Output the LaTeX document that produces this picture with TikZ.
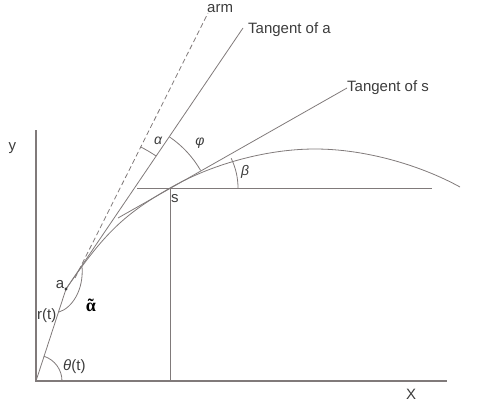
\documentclass[tikz,border=0pt]{standalone}
\usepackage{fontspec}
\setmainfont{Liberation Sans}
\newfontfamily\serifgk{Liberation Serif}
\definecolor{lnc}{RGB}{128,122,122}
\definecolor{txc}{RGB}{60,60,60}
\begin{document}
\begin{tikzpicture}[x=1pt,y=-1pt,
  ln/.style={draw=lnc, line width=0.8pt},
  axis/.style={draw=lnc, line width=1.1pt},
  armline/.style={draw=lnc, line width=0.8pt, dash pattern=on 5pt off 3pt},
  lbl/.style={text=txc, font=\fontsize{15}{15}\selectfont, inner sep=0pt},
  gk/.style={text=txc, font=\fontsize{14}{14}\selectfont\itshape, inner sep=0pt}]
\useasboundingbox (0,0) rectangle (489,407);
% key points
\coordinate (O) at (36,381);
\coordinate (Ytop) at (36,130);
\coordinate (Xend) at (447,381);
\coordinate (A) at (66,289);
\coordinate (S) at (170,188);
\coordinate (ArmS) at (75,278);
\coordinate (ArmE) at (208,13);
\coordinate (TaE) at (243,28);
\coordinate (TsS) at (118,218);
\coordinate (TsE) at (347,88);
\coordinate (Hs) at (137,188);
\coordinate (He) at (432,188);
\coordinate (Sx) at (170,381);
\coordinate (Pk) at (315,149);
\coordinate (Ce) at (460,187);
\coordinate (Cal) at (78,271);
\coordinate (Cph) at (112.2,221.3);
\coordinate (Rt) at (59,312);
\coordinate (Mc) at (82,266);
% axes
\draw[axis] (Ytop) -- (O) -- (Xend);
% radius r(t)
\draw[ln] (O) -- (A);
% arm
\draw[armline] (ArmS) -- (ArmE);
% tangents
\draw[ln] (A) -- (TaE);
\draw[ln] (TsS) -- (TsE);
% horizontal and vertical through s
\draw[ln] (Hs) -- (He);
\draw[ln] (S) -- (Sx);
% main curve
\draw[ln] (A) .. controls (105,232) and (125,214) .. (S)
  .. controls (210,165) and (265,149) .. (Pk)
  .. controls (365,149) and (420,165) .. (Ce);
% alpha tilde curve
\draw[ln] (Rt) .. controls (72,308) and (84,290) .. (Mc);
% point a
\fill[txc] (A) circle (1.6pt);
% angle arcs
\draw[ln] (O) ++(0:26pt) arc[start angle=0, end angle=72, radius=26pt];
\draw[ln] (Cal) ++(55.9:139pt) arc[start angle=55.9, end angle=63.3, radius=139pt];
\draw[ln] (Cph) ++(29.95:102pt) arc[start angle=29.95, end angle=55.9, radius=102pt];
\draw[ln] (S) ++(0:68pt) arc[start angle=0, end angle=26, radius=68pt];
% labels
\node[lbl, anchor=base west] (tarm) at (207,12) {arm};
\node[lbl, anchor=base west] (tta) at (248,33) {Tangent of a};
\node[lbl, anchor=base west] (tts) at (347,91) {Tangent of s};
\node[lbl, anchor=base] (ty) at (12.5,150) {y};
\node[lbl, anchor=base] (tx) at (411,399) {X};
\node[lbl, anchor=base west] (ts) at (171,202) {s};
\node[lbl, anchor=base] (ta) at (60,288) {a};
\node[lbl, anchor=base west] (tr) at (37,319) {r(t)};
\node[lbl, anchor=base west] (tth) at (63,370) {{\itshape θ}(t)};
\node[gk] (tal) at (158,141) {α};
\node[gk] (tph) at (200,143) {φ};
\node[gk] (tbe) at (245,172) {β};
\node[inner sep=0pt, anchor=base, font=\fontsize{18}{18}\selectfont\serifgk\bfseries] (tat) at (91,311) {\makebox[0pt][l]{\hspace{0.1em}˜}α};
\end{tikzpicture}
\end{document}
